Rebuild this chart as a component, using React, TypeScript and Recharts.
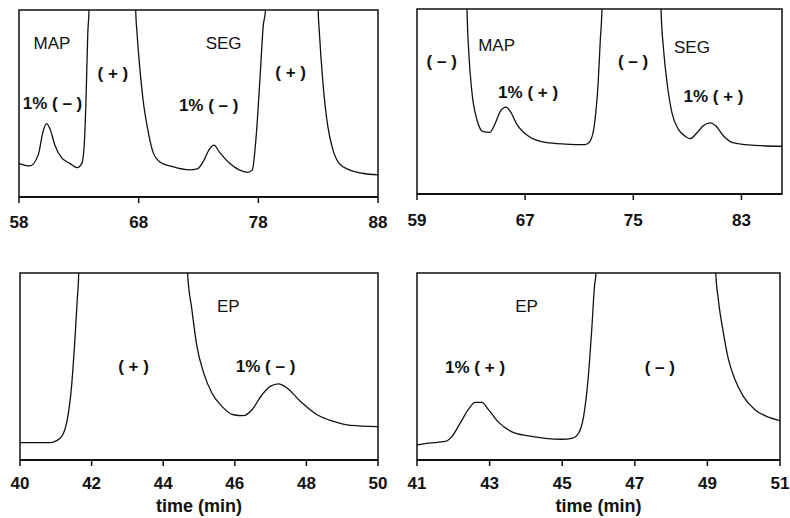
import React from 'react';
import { LineChart, Line, XAxis, YAxis, ReferenceArea, ReferenceDot } from 'recharts';

const FONT = '"Liberation Sans", Arial, Helvetica, sans-serif';
const INK = '#111';

// signal is in % of full scale; values > 100 are off-scale main peaks

// top left: MAP / SEG main (+), 1% (-) impurity
const mapSegPlusTime = [
  58.0, 58.9, 59.6, 60.0, 60.3, 60.6, 61.0, 61.55, 62.25, 62.85, 63.25, 63.45, 63.6, 63.75, 63.85,
  64.0, 67.6, 67.75, 67.86, 68.08, 68.36, 68.8, 69.2, 69.75, 70.85, 72.25, 72.9, 73.4, 73.9,
  74.3, 74.75, 75.6, 76.4, 77.1, 77.5, 77.8, 78.2, 78.4, 78.6, 78.75, 82.85, 83.0, 83.1, 83.4,
  83.8, 84.2, 84.75, 85.6, 86.7, 88.0,
];
const mapSegPlusSignal = [
  18, 16.6, 22.4, 34.7, 39.2, 36.2, 27.7, 21, 18, 15.7, 18, 27.7, 52, 88, 100,
  300, 300, 100, 88, 70, 52.4, 34.7, 24, 18.9, 16.2, 14.5, 15, 19, 25.5,
  27.7, 24, 18, 14.5, 13.2, 14.5, 31, 70, 91, 100, 300, 300, 100, 88, 61,
  38, 26, 18, 14.5, 12.7, 11.8,
];
const mapSegPlusTicks = [58, 68, 78, 88];

// top right: MAP / SEG main (-), 1% (+) impurity
const mapSegMinusTime = [
  59, 62.6, 62.7, 62.82, 63.07, 63.44, 63.86, 64.37, 64.8, 65.16, 65.58, 65.9, 66.4, 67.26, 68.5,
  69.97, 71.45, 71.8, 72.14, 72.4, 72.56, 72.68, 72.8, 76.9, 77.05, 77.24, 77.5, 77.86, 78.35,
  78.85, 79.2, 79.7, 80.2, 80.7, 81.07, 81.7, 82.3, 83.3, 84.5, 86,
];
const mapSegMinusSignal = [
  300, 300, 100, 78, 54.6, 40, 33.9, 33.3, 38.4, 44.7, 47, 44.7, 37.5, 31.2, 27.9,
  27, 26.7, 28.5, 38.4, 60, 83.4, 100, 300, 300, 100, 78, 60, 43.8, 34.8,
  31.2, 29.9, 33, 37, 38.4, 37, 31.2, 27.9, 26.7, 26.1, 25.8,
];
const mapSegMinusTicks = [59, 67, 75, 83];

// bottom left: EP main (+), 1% (-) impurity
const epPlusTime = [
  40, 40.84, 41.12, 41.3, 41.44, 41.54, 41.6, 41.64, 41.75, 44.55, 44.68, 44.8, 44.94, 45.13,
  45.36, 45.64, 45.96, 46.24, 46.48, 46.76, 46.99, 47.22, 47.46, 47.83, 48.3, 48.76, 49.23, 50,
];
const epPlusSignal = [
  9.3, 9.3, 11.6, 19.7, 39.4, 66.3, 86, 100, 300, 300, 100, 80.6, 61, 46.6,
  35.8, 28.7, 24.2, 23.7, 26.9, 34.9, 39.4, 40.7, 38.5, 31.4, 24.2, 20.6, 18.5, 17.9,
];
const epPlusTicks = [40, 42, 44, 46, 48, 50];

// bottom right: EP main (-), 1% (+) impurity
const epMinusTime = [
  41, 41.32, 41.78, 41.96, 42.19, 42.42, 42.6, 42.79, 42.97, 43.25, 43.6, 44.07, 44.53, 44.99,
  45.27, 45.45, 45.59, 45.72, 45.82, 45.89, 45.93, 46.05, 49.1, 49.23, 49.3, 49.44, 49.58,
  49.76, 49.99, 50.31, 50.68, 51,
];
const epMinusSignal = [
  8.1, 9, 9.9, 12.5, 19.7, 27.2, 30.8, 30.8, 26.9, 20.1, 15.2, 12.9, 11.6, 11.1,
  11.6, 14.3, 23.3, 44.8, 71.7, 93, 100, 300, 300, 100, 86, 68, 53.8,
  43, 34, 26.9, 22.9, 21.1,
];
const epMinusTicks = [41, 43, 45, 47, 49, 51];

const toRows = (t: number[], v: number[]) => t.map((x, i) => ({ t: x, v: v[i] }));

type Note = { x: number; y: number; text: string; bold?: boolean };

interface PanelProps {
  left: number;
  top: number;
  margin: { top: number; left: number; right: number; bottom: number };
  axisHeight: number;
  tickGap: number;
  domain: [number, number];
  ticks: number[];
  rows: { t: number; v: number }[];
  notes: Note[];
  xLabel?: string;
}

function Panel({ left, top, margin, axisHeight, tickGap, domain, ticks, rows, notes, xLabel }: PanelProps) {
  return (
    <div style={{ position: 'absolute', left, top }}>
      <LineChart width={395} height={259} data={rows} margin={margin}>
        <XAxis
          type="number"
          dataKey="t"
          domain={domain}
          ticks={ticks}
          interval={0}
          height={axisHeight}
          tickSize={6}
          tickMargin={tickGap}
          axisLine={{ stroke: INK, strokeWidth: 2 }}
          tickLine={{ stroke: INK, strokeWidth: 1.5 }}
          tick={{ fill: INK, fontSize: 17, fontWeight: 700, fontFamily: FONT }}
          label={
            xLabel
              ? { value: xLabel, position: 'insideBottom', offset: 6, fill: INK, fontSize: 18, fontWeight: 700, fontFamily: FONT }
              : undefined
          }
        />
        <YAxis hide type="number" domain={[0, 100]} allowDataOverflow />
        <ReferenceArea x1={domain[0]} x2={domain[1]} y1={0} y2={100} fill="none" stroke={INK} strokeWidth={1.5} />
        <Line type="monotone" dataKey="v" stroke={INK} strokeWidth={1.3} dot={false} isAnimationActive={false} />
        {notes.map((n, i) => (
          <ReferenceDot
            key={i}
            x={n.x}
            y={n.y}
            r={0}
            fill="none"
            stroke="none"
            label={{
              value: n.text,
              position: 'center',
              fill: INK,
              fontSize: 17,
              fontWeight: n.bold ? 700 : 400,
              fontFamily: FONT,
            }}
          />
        ))}
      </LineChart>
    </div>
  );
}

export default function App() {
  return (
    <div style={{ position: 'absolute', left: 0, top: 0, width: 790, height: 518, background: '#fff' }}>
      <Panel
        left={0}
        top={0}
        margin={{ top: 10, left: 19, right: 17, bottom: 0 }}
        axisHeight={62}
        tickGap={13}
        domain={[58, 88]}
        ticks={mapSegPlusTicks}
        rows={toRows(mapSegPlusTime, mapSegPlusSignal)}
        notes={[
          { x: 60.76, y: 82.4, text: 'MAP' },
          { x: 65.85, y: 66.3, text: '( + )', bold: true },
          { x: 60.8, y: 50.3, text: '1% ( – )', bold: true },
          { x: 75.1, y: 82.4, text: 'SEG' },
          { x: 73.85, y: 49.2, text: '1% ( – )', bold: true },
          { x: 80.7, y: 67, text: '( + )', bold: true },
        ]}
      />
      <Panel
        left={395}
        top={0}
        margin={{ top: 9, left: 22, right: 8, bottom: 0 }}
        axisHeight={65}
        tickGap={14}
        domain={[59, 86]}
        ticks={mapSegMinusTicks}
        rows={toRows(mapSegMinusTime, mapSegMinusSignal)}
        notes={[
          { x: 60.83, y: 72.1, text: '( – )', bold: true },
          { x: 64.89, y: 80.5, text: 'MAP' },
          { x: 67.22, y: 54.9, text: '1% ( + )', bold: true },
          { x: 74.98, y: 72.1, text: '( – )', bold: true },
          { x: 79.34, y: 79.6, text: 'SEG' },
          { x: 80.93, y: 53.1, text: '1% ( + )', bold: true },
        ]}
      />
      <Panel
        left={0}
        top={259}
        margin={{ top: 14, left: 20, right: 17, bottom: 0 }}
        axisHeight={58}
        tickGap={11}
        domain={[40, 50]}
        ticks={epPlusTicks}
        rows={toRows(epPlusTime, epPlusSignal)}
        xLabel="time (min)"
        notes={[
          { x: 45.82, y: 82.5, text: 'EP' },
          { x: 43.17, y: 50.4, text: '( + )', bold: true },
          { x: 46.86, y: 50.4, text: '1% ( – )', bold: true },
        ]}
      />
      <Panel
        left={395}
        top={259}
        margin={{ top: 14, left: 22, right: 10, bottom: 0 }}
        axisHeight={58}
        tickGap={11}
        domain={[41, 51]}
        ticks={epMinusTicks}
        rows={toRows(epMinusTime, epMinusSignal)}
        xLabel="time (min)"
        notes={[
          { x: 44.02, y: 82.5, text: 'EP' },
          { x: 42.6, y: 49.6, text: '1% ( + )', bold: true },
          { x: 47.69, y: 49.6, text: '( – )', bold: true },
        ]}
      />
    </div>
  );
}
